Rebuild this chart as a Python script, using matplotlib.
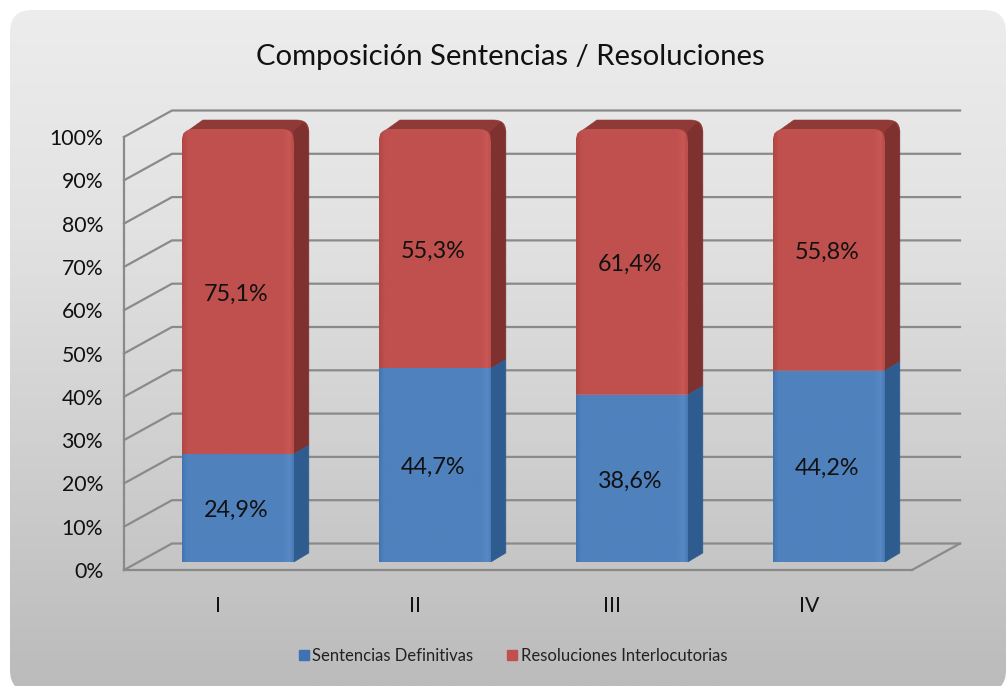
import numpy as np
import matplotlib
matplotlib.use("Agg")
import matplotlib.pyplot as plt
from matplotlib.patches import FancyBboxPatch, PathPatch, Patch
from matplotlib.path import Path
from matplotlib.colors import LinearSegmentedColormap
from matplotlib.transforms import ScaledTranslation

categories = ["I", "II", "III", "IV"]
sentencias = [24.9, 44.7, 38.6, 44.2]
resoluciones = [75.1, 55.3, 61.4, 55.8]
sentencias_labels = ["24,9%", "44,7%", "38,6%", "44,2%"]
resoluciones_labels = ["75,1%", "55,3%", "61,4%", "55,8%"]
y_ticks = list(range(0, 101, 10))
y_tick_labels = [f"{v}%" for v in y_ticks]
title = "Composición Sentencias / Resoluciones"
series_names = ["Sentencias Definitivas", "Resoluciones Interlocutorias"]

W, H = 1006, 686
FONT = "Lato"
plt.rcParams["font.family"] = [FONT, "DejaVu Sans"]
fig = plt.figure(figsize=(W / 100, H / 100), dpi=100, facecolor="white")

# ---- background panel with vertical gradient
bg = fig.add_axes([0, 0, 1, 1], zorder=0)
bg.set_xlim(0, W); bg.set_ylim(H, 0); bg.axis("off")
grad = np.linspace(0, 1, 256).reshape(-1, 1)
bg_cmap = LinearSegmentedColormap.from_list("bg", ["#ededed", "#e2e2e2", "#cfcfcf", "#bbbbbb"])
im = bg.imshow(grad, extent=(0, W, H, 0), aspect="auto", cmap=bg_cmap, zorder=1)
panel = FancyBboxPatch((24, 24), 968, 654, boxstyle="round,pad=14,rounding_size=22",
                       fc="none", ec="none", transform=bg.transData)
bg.add_patch(panel)
im.set_clip_path(panel)
bg.set_xlim(0, W); bg.set_ylim(H, 0)

# ---- plot axes: front plane of the 3-D box
L, R, B, T = 124, 912, 570, 137
ax = fig.add_axes([L / W, 1 - B / H, (R - L) / W, (B - T) / H], zorder=2)
ax.patch.set_alpha(0)
ax.set_xlim(-0.5, 3.5); ax.set_ylim(0, 100)
PX = (R - L) / 4          # pixels per category
PY = (B - T) / 100        # pixels per percent
GRID = "#8a8a8a"

wall_dx, wall_dy = 48 / PX, 26.5 / PY
for s in ("top", "right"):
    ax.spines[s].set_visible(False)
for s in ("left", "bottom"):
    ax.spines[s].set_color(GRID); ax.spines[s].set_linewidth(1.6)
ax.set_xticks(range(len(categories)), categories, fontsize=15.3, color="#111111")
ax.set_yticks(y_ticks, y_tick_labels, fontsize=15.3, color="#111111")
ax.tick_params(length=0)
ax.tick_params(axis="x", pad=18.5)
ax.tick_params(axis="y", pad=15)
for t in ax.get_xticklabels():
    t.set_transform(t.get_transform() + ScaledTranslation(-4.5 / 100, 0, fig.dpi_scale_trans))

for v in y_ticks:
    ax.plot([-0.5, -0.5 + wall_dx, 3.5 + wall_dx], [v, v + wall_dy, v + wall_dy],
            color=GRID, lw=1.6, clip_on=False, zorder=1, solid_joinstyle="miter")
ax.plot([3.5, 3.5 + wall_dx], [0, wall_dy], color=GRID, lw=1.6, clip_on=False, zorder=1)

# ---- bars
bar_w = 112 / PX
shift_x = 0.078
shift_y = 8 / PY
side_dx, side_dy = 15 / PX, 9 / PY
rx, ry = 12 / PX, 12 / PY
label_drop = 2.5 / PY


def poly(points, color, z):
    p = PathPatch(Path(points + [points[0]]), fc=color, ec=color, lw=0.4, clip_on=False, zorder=z)
    ax.add_patch(p)
    return p


def shaded(x0, x1, y0, y1, stops, clip, z):
    cm = LinearSegmentedColormap.from_list("f", stops)
    img = ax.imshow(np.linspace(0, 1, 128).reshape(1, -1), extent=(x0, x1, y0, y1), aspect="auto",
                    cmap=cm, zorder=z, interpolation="bilinear")
    img.set_clip_box(fig.bbox)
    img.set_clip_path(clip)


blue_stops = [(0, "#4274b3"), (0.04, "#4f81bd"), (0.9, "#4f81bd"), (0.965, "#5889c4"), (1, "#4a7ab5")]
red_stops = [(0, "#b04744"), (0.05, "#c0504d"), (0.9, "#c0504d"), (0.965, "#c95854"), (1, "#b84a47")]

for i in range(len(categories)):
    x0 = i + shift_x - bar_w / 2
    x1 = x0 + bar_w
    b0 = shift_y
    b1 = b0 + sentencias[i]
    b2 = b1 + resoluciones[i]
    # top + side silhouette
    verts = [(x0 + rx * 0.15, b2 - ry * 0.4), (x0 + side_dx + rx * 0.5, b2 + side_dy),
             (x1 + side_dx - rx, b2 + side_dy), (x1 + side_dx, b2 + side_dy),
             (x1 + side_dx, b2 + side_dy - ry), (x1, b2 - ry), (x0 + rx * 0.15, b2 - ry), (x0 + rx * 0.15, b2 - ry * 0.4)]
    codes = [Path.MOVETO, Path.LINETO, Path.LINETO, Path.CURVE3, Path.CURVE3, Path.LINETO, Path.LINETO, Path.CLOSEPOLY]
    ax.add_patch(PathPatch(Path(verts, codes), fc="#8f3a37", ec="#8f3a37", lw=0.4, clip_on=False, zorder=3))
    # right side faces
    side = [(x1, b1), (x1 + side_dx, b1 + side_dy), (x1 + side_dx, b2 + side_dy - ry),
            (x1 + side_dx - rx * 0.4, b2 + side_dy - ry * 0.2), (x1, b2 - ry * 0.2)]
    poly(side, "#7f312f", 4)
    poly([(x1, b0), (x1 + side_dx, b0 + side_dy), (x1 + side_dx, b1 + side_dy), (x1, b1)], "#2f5c8f", 4)
    # front faces
    blue_clip = PathPatch(Path([(x0, b0), (x1, b0), (x1, b1), (x0, b1), (x0, b0)]),
                          fc="none", ec="none", transform=ax.transData, clip_on=False)
    ax.add_patch(blue_clip)
    shaded(x0, x1, b0, b1, blue_stops, blue_clip, 5)
    rv = [(x0, b1), (x1, b1), (x1, b2 - ry), (x1, b2), (x1 - rx, b2), (x0 + rx, b2), (x0, b2), (x0, b2 - ry), (x0, b1)]
    rc = [Path.MOVETO, Path.LINETO, Path.LINETO, Path.CURVE3, Path.CURVE3, Path.LINETO, Path.CURVE3, Path.CURVE3, Path.CLOSEPOLY]
    red_clip = PathPatch(Path(rv, rc), fc="none", ec="none", transform=ax.transData, clip_on=False)
    ax.add_patch(red_clip)
    shaded(x0, x1, b1, b2, red_stops, red_clip, 5)
    # data labels
    cx = (x0 + x1) / 2 - 0.01
    ax.text(cx, b0 + sentencias[i] / 2 - label_drop, sentencias_labels[i], ha="center", va="center",
            fontsize=16.8, color="#111111", zorder=7)
    ax.text(cx, b1 + resoluciones[i] / 2 - label_drop, resoluciones_labels[i], ha="center", va="center",
            fontsize=16.8, color="#111111", zorder=7)

ax.set_xlim(-0.5, 3.5); ax.set_ylim(0, 100)

# ---- title and legend
fig.text(510 / W, 1 - 56.5 / H, title, ha="center", va="center", fontsize=21.1, color="#111111")
handles = [Patch(fc="#3f72b2", ec="#3f72b2"), Patch(fc="#c0504d", ec="#c0504d")]
fig.legend(handles, series_names, loc="center", bbox_to_anchor=(513 / W, 1 - 656 / H), ncol=2,
           frameon=False, fontsize=12, handlelength=0.6, handleheight=0.6, handletextpad=0.2,
           columnspacing=2.05, labelcolor="#222222")

fig.savefig("out.png", dpi=100)
